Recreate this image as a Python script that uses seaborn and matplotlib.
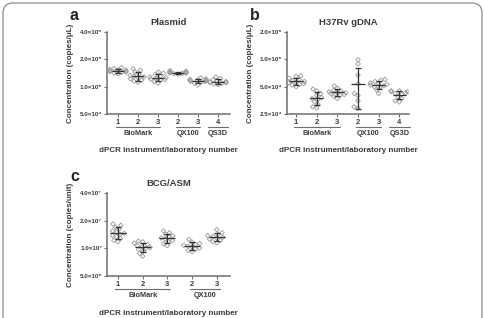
import numpy as np
import pandas as pd
import matplotlib
matplotlib.use('Agg')
import matplotlib.pyplot as plt
from matplotlib.patches import FancyBboxPatch
import seaborn as sns

# ---- data ----
plasmid_labels = ['1', '2', '3', '2', '3', '4']
plasmid_groups = [('BioMark', 0, 2), ('QX100', 3, 4), ('QS3D', 5, 5)]
plasmid_vals = [
    [1.38, 1.42, 1.45, 1.47, 1.48, 1.50, 1.52, 1.53, 1.55, 1.58, 1.62, 1.44],
    [1.12, 1.18, 1.22, 1.25, 1.28, 1.30, 1.33, 1.38, 1.45, 1.52, 1.58, 1.15],
    [1.09, 1.14, 1.18, 1.21, 1.24, 1.26, 1.28, 1.31, 1.36, 1.41, 1.45, 1.20],
    [1.37, 1.39, 1.40, 1.41, 1.42, 1.43, 1.44, 1.45, 1.46, 1.48, 1.50, 1.42],
    [1.04, 1.09, 1.12, 1.14, 1.16, 1.17, 1.18, 1.19, 1.20, 1.22, 1.25, 1.15],
    [1.05, 1.07, 1.09, 1.10, 1.11, 1.12, 1.13, 1.14, 1.16, 1.19, 1.23, 1.28],
]  # x 1e5 copies/uL
plasmid_ticks = [5e4, 1e5, 2e5, 4e5]
plasmid_ticklabels = ['5.0×10⁴', '1.0×10⁵', '2.0×10⁵', '4.0×10⁵']

h37_labels = ['1', '2', '3', '2', '3', '4']
h37_groups = [('BioMark', 0, 2), ('QX100', 3, 4), ('QS3D', 5, 5)]
h37_vals = [
    [5.0, 5.2, 5.3, 5.5, 5.6, 5.7, 5.8, 6.0, 6.2, 6.5, 6.6, 5.4],
    [2.9, 3.0, 3.2, 3.4, 3.6, 3.7, 3.8, 4.0, 4.2, 4.5, 4.7],
    [3.7, 3.9, 4.0, 4.1, 4.2, 4.3, 4.3, 4.4, 4.5, 4.6, 4.8, 5.1],
    [9.9, 8.9, 6.7, 5.4, 4.2, 4.0, 3.5, 2.9, 3.0],
    [4.2, 4.6, 4.9, 5.0, 5.1, 5.2, 5.3, 5.4, 5.5, 5.7, 5.9, 6.0],
    [3.4, 3.5, 3.7, 3.9, 4.1, 4.2, 4.3, 4.4, 4.4, 4.5, 4.5],
]  # x 1e4 copies/uL
h37_ticks = [2.5e4, 5e4, 1e5, 2e5]
h37_ticklabels = ['2.5×10⁴', '5.0×10⁴', '1.0×10⁵', '2.0×10⁵']

bcg_labels = ['1', '2', '3', '2', '3']
bcg_groups = [('BioMark', 0, 2), ('QX100', 3, 4)]
bcg_vals = [
    [1.18, 1.22, 1.28, 1.34, 1.38, 1.42, 1.46, 1.50, 1.55, 1.62, 1.70, 1.78, 1.84],
    [0.82, 0.88, 0.93, 0.97, 1.00, 1.02, 1.04, 1.07, 1.10, 1.14, 1.18, 1.20],
    [1.07, 1.12, 1.18, 1.22, 1.26, 1.30, 1.33, 1.37, 1.42, 1.48, 1.55],
    [0.92, 0.95, 0.98, 1.01, 1.04, 1.06, 1.08, 1.10, 1.13, 1.17, 1.25],
    [1.15, 1.18, 1.22, 1.26, 1.29, 1.32, 1.35, 1.38, 1.42, 1.48, 1.60],
]  # x 1e7 copies/unit
bcg_ticks = [5e6, 1e7, 2e7, 4e7]
bcg_ticklabels = ['5.0×10⁶', '1.0×10⁷', '2.0×10⁷', '4.0×10⁷']

sns.set_style('ticks')
plt.rcParams['font.family'] = ['Liberation Sans', 'DejaVu Sans']
plt.rcParams['font.weight'] = 'bold'

TXT = '#3a3a3a'
AX = '#6e6e6e'
DOT = '#999999'


def dot_panel(ax, vals, scale, labels, groups, ticks, ticklabels, xlim,
              title, letter, ylabel):
    rows = []
    for i, v in enumerate(vals):
        for y in v:
            rows.append({'cat': 'c%d' % i, 'val': y * scale})
    df = pd.DataFrame(rows)
    order = ['c%d' % i for i in range(len(vals))]

    ax.set_yscale('log')
    sns.swarmplot(data=df, x='cat', y='val', order=order, ax=ax,
                  marker='D', size=2.3, color=DOT, linewidth=0.6)
    for coll in ax.collections:
        coll.set_facecolor('none')
        coll.set_edgecolor(DOT)
        coll.set_linewidth(0.6)

    pos = np.arange(len(vals))
    means = np.array([np.mean(v) * scale for v in vals])
    sds = np.array([np.std(v, ddof=1) * scale for v in vals])
    ax.errorbar(pos, means, yerr=sds, fmt='none', ecolor='#333333',
                elinewidth=0.9, capsize=2.0, capthick=0.9, zorder=4)
    ax.hlines(means, pos - 0.32, pos + 0.32, color='#333333', lw=0.9, zorder=4)

    ax.set_ylim(ticks[0], ticks[-1])
    ax.set_xlim(*xlim)
    ax.set_yticks(ticks)
    ax.set_yticklabels(ticklabels)
    ax.yaxis.set_minor_locator(matplotlib.ticker.NullLocator())
    ax.set_xticks(pos)
    ax.set_xticklabels(labels)
    ax.tick_params(axis='y', labelsize=4.5, length=2, width=0.8,
                   color=AX, labelcolor=TXT, pad=1.5)
    ax.tick_params(axis='x', labelsize=5.5, length=2, width=0.8,
                   color=AX, labelcolor=TXT, pad=1.5)
    sns.despine(ax=ax)
    for s in ['left', 'bottom']:
        ax.spines[s].set_color(AX)
        ax.spines[s].set_linewidth(1.1)

    ax.set_xlabel('')
    ax.set_ylabel(ylabel, fontsize=5.8, color=TXT, fontweight='bold')
    ax.yaxis.set_label_coords(-0.27, 0.5)

    tr = matplotlib.transforms.blended_transform_factory(ax.transData, ax.transAxes)
    for name, a, b in groups:
        if a == b:
            x0, x1 = a - 0.5, b + 0.5
        else:
            x0, x1 = a - 0.1, b + 0.12
        ax.plot([x0, x1], [-0.16, -0.16], transform=tr, color=AX, lw=0.8,
                clip_on=False)
        ax.text((x0 + x1) / 2, -0.235, name, transform=tr, ha='center',
                va='center', fontsize=5.3, color=TXT, fontweight='bold')

    ax.text(0.5, -0.45, 'dPCR instrument/laboratory number', transform=ax.transAxes,
            ha='center', va='center', fontsize=5.8, color=TXT, fontweight='bold')
    ax.text(0.5, 1.12, title, transform=ax.transAxes, ha='center', va='center',
            fontsize=6.8, color=TXT, fontweight='bold')
    ax.text(-0.265, 1.195, letter, transform=ax.transAxes, ha='center',
            va='center', fontsize=11.5, color='#222222', fontweight='bold')


fig = plt.figure(figsize=(4.85, 3.18), dpi=100)
ax_a = fig.add_axes([0.2206, 0.6415, 0.2536, 0.2579])
ax_b = fig.add_axes([0.5918, 0.6415, 0.2515, 0.2579])
ax_c = fig.add_axes([0.2206, 0.1320, 0.2536, 0.2610])

dot_panel(ax_a, plasmid_vals, 1e5, plasmid_labels, plasmid_groups, plasmid_ticks,
          plasmid_ticklabels, (-0.55, 5.6), 'Plasmid', 'a',
          'Concentration (copies/μL)')
dot_panel(ax_b, h37_vals, 1e4, h37_labels, h37_groups, h37_ticks,
          h37_ticklabels, (-0.44, 5.47), 'H37Rv gDNA', 'b',
          'Concentration (copies/μL)')
dot_panel(ax_c, bcg_vals, 1e7, bcg_labels, bcg_groups, bcg_ticks,
          bcg_ticklabels, (-0.44, 4.53), 'BCG/ASM', 'c',
          'Concentration (copies/unit)')

frame = FancyBboxPatch((0.03, -0.4), 4.79, 3.55,
                       boxstyle='round,pad=0,rounding_size=0.1',
                       transform=fig.dpi_scale_trans, fill=False,
                       edgecolor='#8c8c8c', linewidth=0.9, clip_on=False)
fig.patches.append(frame)

fig.savefig('out.png', dpi=100)
